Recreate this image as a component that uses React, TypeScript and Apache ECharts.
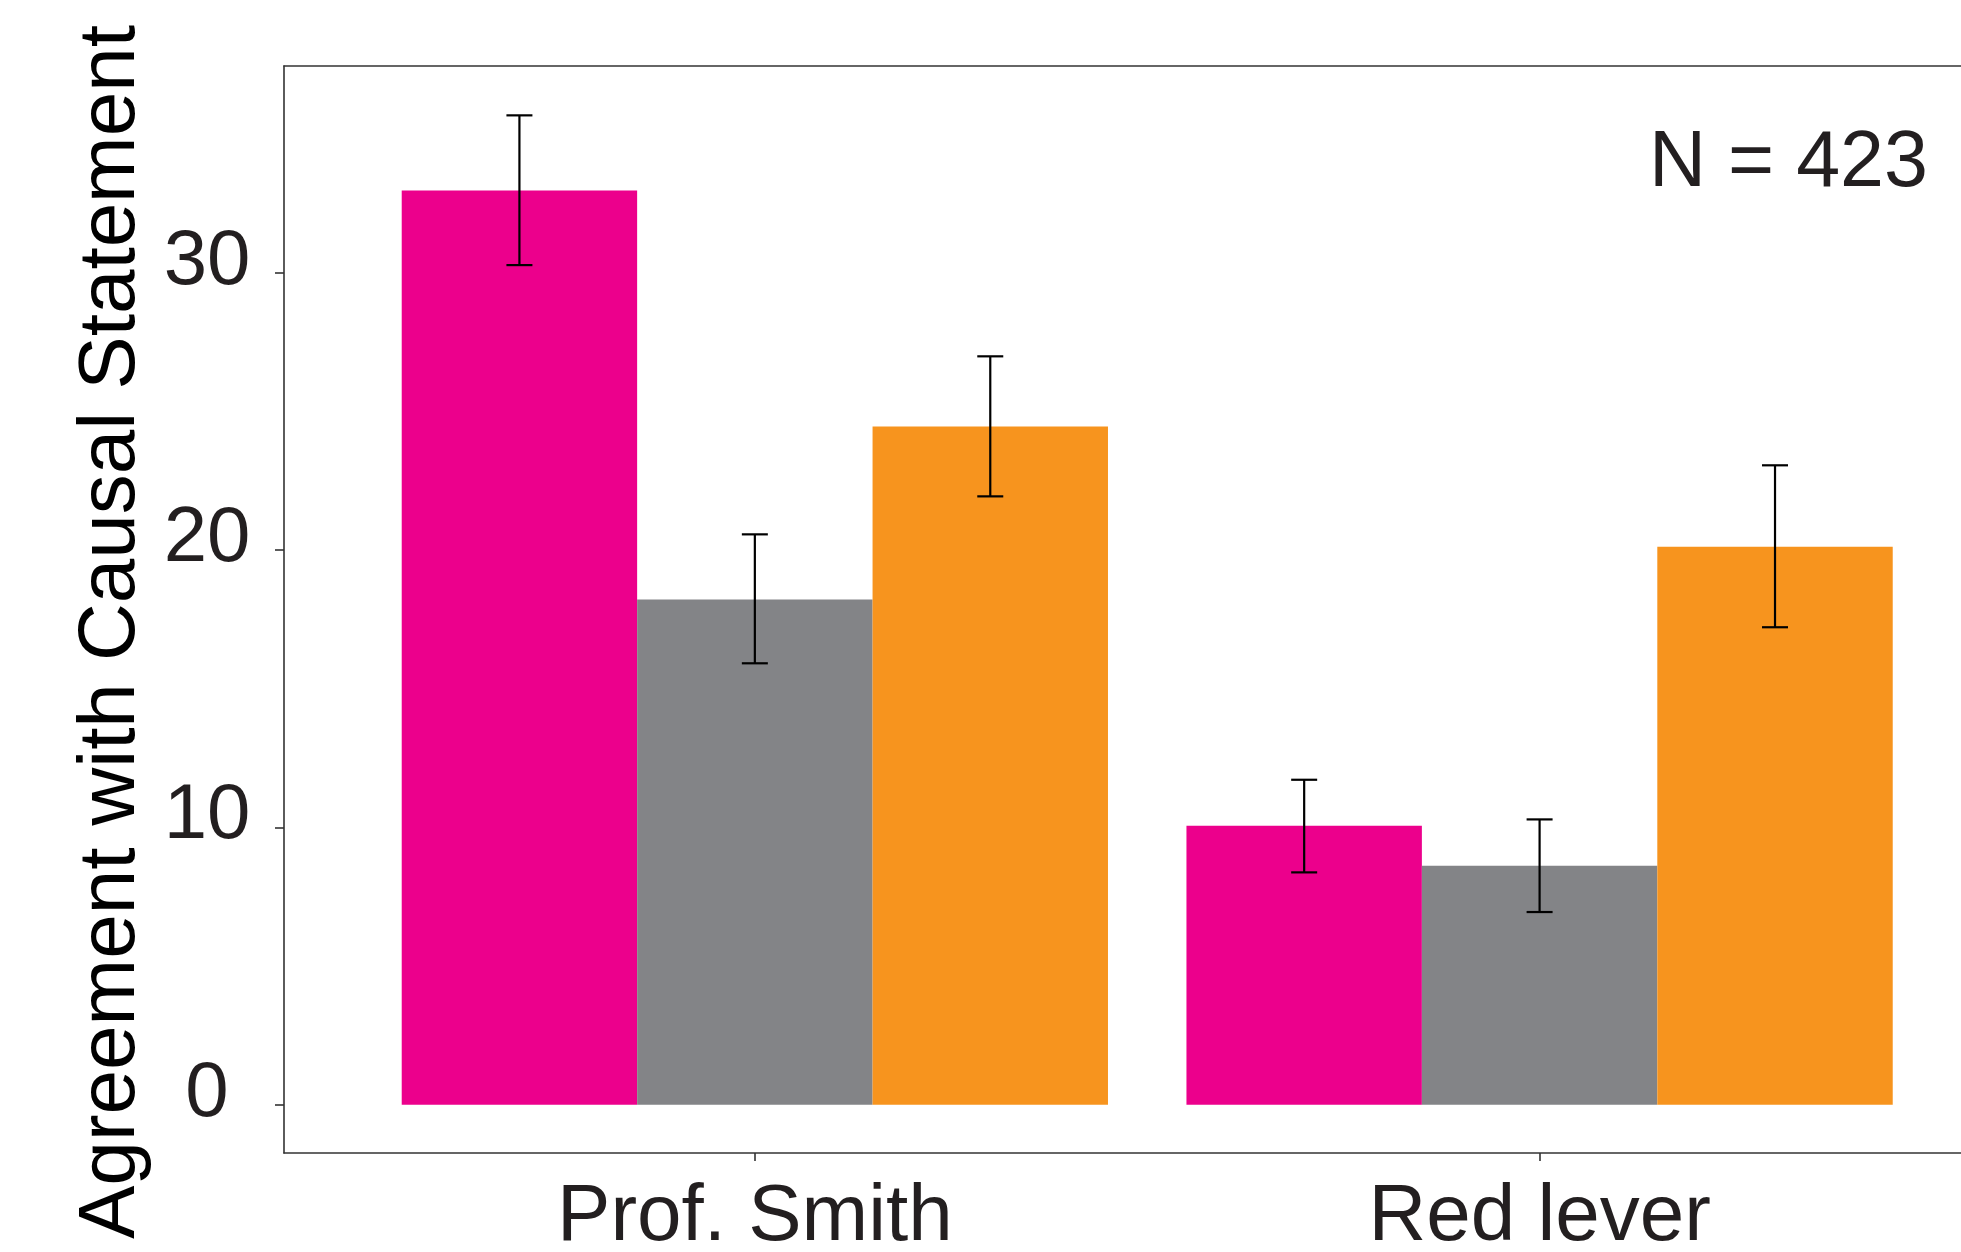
import React, { useEffect, useRef } from "react";
import * as echarts from "echarts";

const categories = ["Prof. Smith", "Red lever"];
const seriesNames = ["Group 1", "Group 2", "Group 3"];
const seriesColors = ["#EC008C", "#838487", "#F7941E"];
const values1 = [32.97, 10.06];
const values2 = [18.22, 8.62];
const values3 = [24.46, 20.12];
const low1 = [30.28, 8.38];
const high1 = [35.68, 11.72];
const low2 = [15.92, 6.95];
const high2 = [20.57, 10.29];
const low3 = [21.94, 17.22];
const high3 = [26.99, 23.06];
const yTicks = [0, 10, 20, 30];
const nLabel = "N = 423";
const yTitle = "Agreement with Causal Statement";

const FONT = "'Liberation Sans', Arial, Helvetica, sans-serif";
const TEXT = "#231F20";
const FRAME = "#333333";
const BAR_FRAC = 0.3;

export default function App() {
  const ref = useRef<HTMLDivElement>(null);
  useEffect(() => {
    if (!ref.current) return;
    const chart = echarts.init(ref.current, undefined, { renderer: "svg" });
    const valueSets = [values1, values2, values3];
    const lows = [low1, low2, low3];
    const highs = [high1, high2, high3];
    const catPos = categories.map((_, i) => i + 1);

    const barSeries = valueSets.map((vals, s) => ({
      type: "bar",
      name: seriesNames[s],
      data: vals.map((v, i) => [catPos[i], v]),
      barWidth: "30%",
      barGap: "0%",
      itemStyle: { color: seriesColors[s] },
      z: 2,
    }));

    const errData: number[][] = [];
    lows.forEach((lo, s) => {
      lo.forEach((l, i) => errData.push([catPos[i], l, highs[s][i], s]));
    });

    const errSeries = {
      type: "custom",
      name: "error",
      data: errData,
      encode: { x: 0, y: [1, 2] },
      z: 5,
      renderItem: (params: any, api: any) => {
        const x = api.value(0);
        const lo = api.value(1);
        const hi = api.value(2);
        const k = api.value(3);
        const pHi = api.coord([x, hi]);
        const pLo = api.coord([x, lo]);
        const band = api.size([1, 0])[0];
        const off = (k - 1) * band * BAR_FRAC;
        const cx = pHi[0] + off;
        const cap = 13;
        const style = { stroke: "#000", lineWidth: 2.2 };
        return {
          type: "group",
          children: [
            { type: "line", shape: { x1: cx, y1: pHi[1], x2: cx, y2: pLo[1] }, style },
            { type: "line", shape: { x1: cx - cap, y1: pHi[1], x2: cx + cap, y2: pHi[1] }, style },
            { type: "line", shape: { x1: cx - cap, y1: pLo[1], x2: cx + cap, y2: pLo[1] }, style },
          ],
        };
      },
    };

    const xMin = 0.4;
    const xMax = 2.537;

    chart.setOption({
      animation: false,
      backgroundColor: "#fff",
      grid: {
        left: 284,
        top: 66,
        right: 0,
        height: 1087,
        show: false,
        containLabel: false,
      },
      xAxis: [
        {
          type: "value",
          min: xMin,
          max: xMax,
          position: "bottom",
          axisLine: { show: true, onZero: false, lineStyle: { color: FRAME, width: 1.6 } },
          splitLine: { show: false },
          axisTick: {
            show: true,
            customValues: catPos,
            length: 8,
            lineStyle: { color: FRAME, width: 1.6 },
          },
          axisLabel: {
            customValues: catPos,
            formatter: (v: number) => categories[Math.round(v) - 1] ?? "",
            fontFamily: FONT,
            fontSize: 80,
            color: TEXT,
            margin: 39,
            lineHeight: 40,
          },
        },
        {
          type: "value",
          min: xMin,
          max: xMax,
          position: "top",
          axisLine: { show: true, onZero: false, lineStyle: { color: FRAME, width: 1.6 } },
          splitLine: { show: false },
          axisTick: { show: false },
          axisLabel: { show: false },
        },
      ],
      yAxis: {
        type: "value",
        min: -1.74,
        max: 37.46,
        axisLine: { show: true, onZero: false, lineStyle: { color: FRAME, width: 1.6 } },
        splitLine: { show: false },
        axisTick: {
          show: true,
          customValues: yTicks,
          length: 9,
          lineStyle: { color: FRAME, width: 1.6 },
        },
        axisLabel: {
          customValues: yTicks,
          fontFamily: FONT,
          fontSize: 78,
          color: TEXT,
          margin: 77,
          align: "center",
          verticalAlign: "bottom",
          lineHeight: 32,
        },
      },
      graphic: [
        {
          type: "text",
          x: 106,
          y: 632,
          rotation: Math.PI / 2,
          style: {
            text: yTitle,
            fontFamily: FONT,
            fontSize: 80,
            fill: "#000",
            align: "center",
            verticalAlign: "middle",
          },
        },
        {
          type: "text",
          x: 1928,
          y: 158,
          style: {
            text: nLabel,
            fontFamily: FONT,
            fontSize: 79,
            fill: TEXT,
            align: "right",
            verticalAlign: "middle",
          },
        },
      ],
      series: [...barSeries, errSeries],
    });
    return () => chart.dispose();
  }, []);
  return (
    <div
      ref={ref}
      style={{ position: "fixed", left: 0, top: 0, width: 1961, height: 1252 }}
    />
  );
}
